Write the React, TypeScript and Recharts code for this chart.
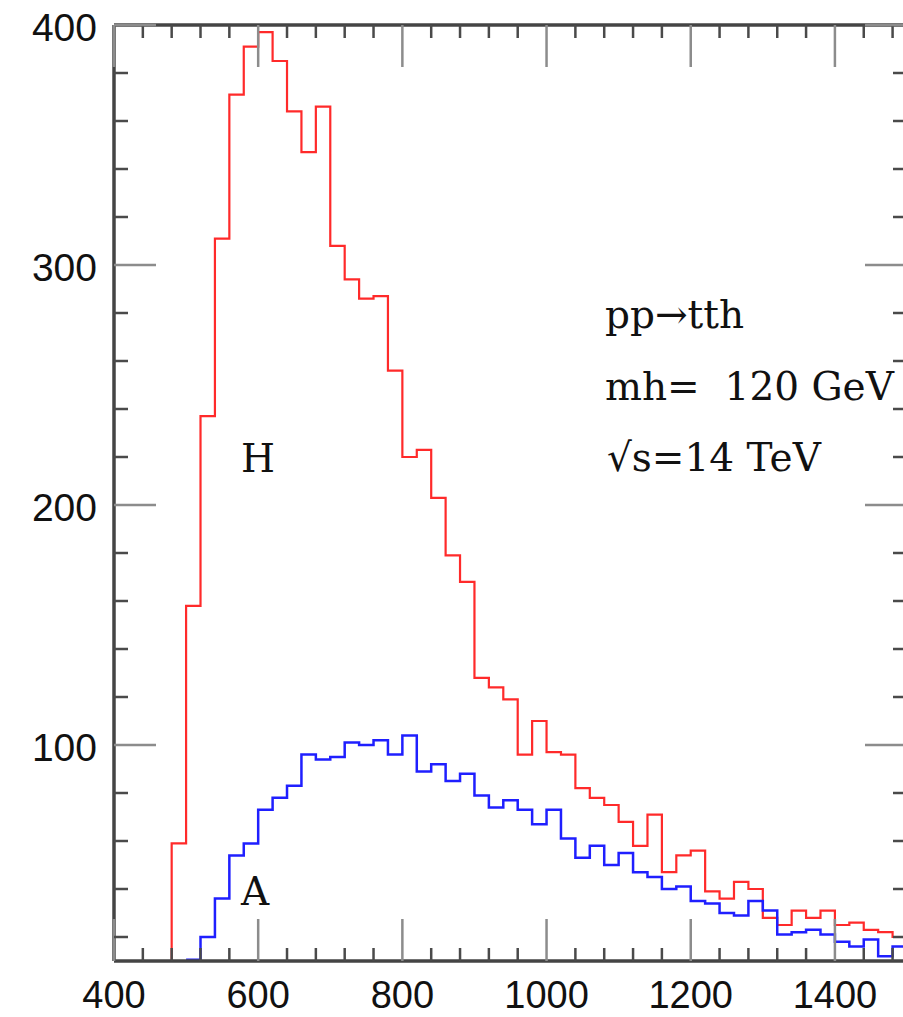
import { LineChart, Line, XAxis, YAxis, ReferenceLine } from 'recharts';

// lower edge of each 20 GeV bin
const binLow = [
  460, 480, 500, 520, 540, 560, 580, 600, 620, 640, 660, 680, 700, 720, 740, 760, 780,
  800, 820, 840, 860, 880, 900, 920, 940, 960, 980, 1000, 1020, 1040, 1060, 1080, 1100,
  1120, 1140, 1160, 1180, 1200, 1220, 1240, 1260, 1280, 1300, 1320, 1340, 1360, 1380,
  1400, 1420, 1440, 1460, 1480,
];
const binEnd = 1500;

const hCounts = [
  0, 59, 158, 237, 311, 371, 391, 397, 385, 364, 347, 366, 308, 294, 286, 287, 256,
  220, 223, 203, 179, 168, 128, 124, 119, 96, 110, 97, 96, 82, 78, 75, 68,
  58, 71, 47, 54, 56, 39, 36, 43, 40, 28, 25, 31, 28, 31,
  25, 26, 23, 22, 20,
];

const aCounts = [
  null, null, 10.5, 20, 36, 54, 59, 73, 78, 83, 96, 94, 95, 101, 100, 102, 96,
  104, 89, 92, 85, 88, 79, 74, 77, 73, 67, 73, 61, 53, 58, 50, 55,
  47, 45, 40, 41, 35, 34, 30, 29, 35, 31, 21, 22, 23, 21,
  18, 16, 19, 12, 16,
];

const xMajor = [400, 600, 800, 1000, 1200, 1400];
const xTicks = [
  400, 440, 480, 520, 560, 600, 640, 680, 720, 760, 800, 840, 880, 920, 960, 1000,
  1040, 1080, 1120, 1160, 1200, 1240, 1280, 1320, 1360, 1400, 1440, 1480,
];
const yMajor = [100, 200, 300, 400];
const yTicks = [
  20, 40, 60, 80, 100, 120, 140, 160, 180, 200, 220, 240, 260, 280, 300, 320, 340, 360, 380, 400,
];

const data = binLow.map((x, i) => ({ x, h: hCounts[i], a: aCounts[i] }));
data.push({ x: binEnd, h: hCounts[hCounts.length - 1], a: aCounts[aCounts.length - 1] });

const CHART_W = 927;
const CHART_H = 1017;
const MARGIN = { top: 25, right: 20, left: 0, bottom: 0 };
const Y_AXIS_W = 114;
const X_AXIS_H = 56;
const PLOT_TOP = MARGIN.top;
const PLOT_RIGHT = CHART_W - MARGIN.right;

const MAJOR_LEN = 42;
const MINOR_LEN = 13;
const majorStroke = '#8c8c8c';
const minorStroke = '#4a4a4a';
const axisStroke = '#444';
const labelFont = '"Liberation Sans", Arial, sans-serif';
const noteFont = '"DejaVu Serif", serif';

const XTick = (props: any) => {
  const { x, y, payload } = props;
  const major = xMajor.includes(payload.value);
  const len = major ? MAJOR_LEN : MINOR_LEN;
  const stroke = major ? majorStroke : minorStroke;
  return (
    <g>
      <line x1={x} x2={x} y1={y} y2={y - len} stroke={stroke} strokeWidth={2.5} />
      <line x1={x} x2={x} y1={PLOT_TOP} y2={PLOT_TOP + len} stroke={stroke} strokeWidth={2.5} />
      {major && (
        <text x={x} y={y + 47} textAnchor='middle' fontSize={38} fontFamily={labelFont} fill='#111'>
          {payload.value}
        </text>
      )}
    </g>
  );
};

const YTick = (props: any) => {
  const { x, y, payload } = props;
  const major = yMajor.includes(payload.value);
  const len = major ? MAJOR_LEN : MINOR_LEN + 1;
  const stroke = major ? majorStroke : minorStroke;
  return (
    <g>
      <line x1={x} x2={x + len} y1={y} y2={y} stroke={stroke} strokeWidth={2.5} />
      <line x1={PLOT_RIGHT} x2={PLOT_RIGHT - len} y1={y} y2={y} stroke={stroke} strokeWidth={2.5} />
      {major && (
        <text x={x - 17} y={y + 16} textAnchor='end' fontSize={39} fontFamily={labelFont} fill='#111'>
          {payload.value}
        </text>
      )}
    </g>
  );
};

const App = () => {
  return (
    <div
      style={{
        position: 'absolute',
        left: 0,
        top: 0,
        width: 903,
        height: 1017,
        overflow: 'hidden',
        background: '#fff',
      }}
    >
      <LineChart width={CHART_W} height={CHART_H} data={data} margin={MARGIN}>
        <XAxis
          dataKey='x'
          type='number'
          domain={[400, 1500]}
          allowDataOverflow
          ticks={xTicks}
          interval={0}
          tick={XTick}
          tickLine={false}
          tickSize={0}
          tickMargin={0}
          height={X_AXIS_H}
          axisLine={{ stroke: axisStroke, strokeWidth: 3.5 }}
        />
        <YAxis
          type='number'
          domain={[10, 400]}
          allowDataOverflow
          ticks={yTicks}
          interval={0}
          tick={YTick}
          tickLine={false}
          tickSize={0}
          tickMargin={0}
          width={Y_AXIS_W}
          axisLine={{ stroke: axisStroke, strokeWidth: 3.5 }}
        />
        <ReferenceLine y={400} stroke={axisStroke} strokeWidth={3.5} />
        <ReferenceLine x={1500} stroke={axisStroke} strokeWidth={3.5} />
        <Line
          type='stepAfter'
          dataKey='h'
          stroke='#ff2a2a'
          strokeWidth={2.2}
          dot={false}
          isAnimationActive={false}
        />
        <Line
          type='stepAfter'
          dataKey='a'
          stroke='#1f1fff'
          strokeWidth={2.5}
          dot={false}
          isAnimationActive={false}
        />
      </LineChart>
      <svg
        width={903}
        height={1017}
        style={{ position: 'absolute', left: 0, top: 0, pointerEvents: 'none' }}
      >
        <g fontFamily={noteFont} fontSize={39} fill='#111'>
          <text x={605} y={328}>pp→tth</text>
          <text x={605} y={400}>{'mh=\u00a0 120 GeV'}</text>
          <text x={607} y={471}>√s=14 TeV</text>
          <text x={258} y={472} textAnchor='middle'>H</text>
          <text x={255} y={905} textAnchor='middle'>A</text>
        </g>
      </svg>
    </div>
  );
};

export default App;
